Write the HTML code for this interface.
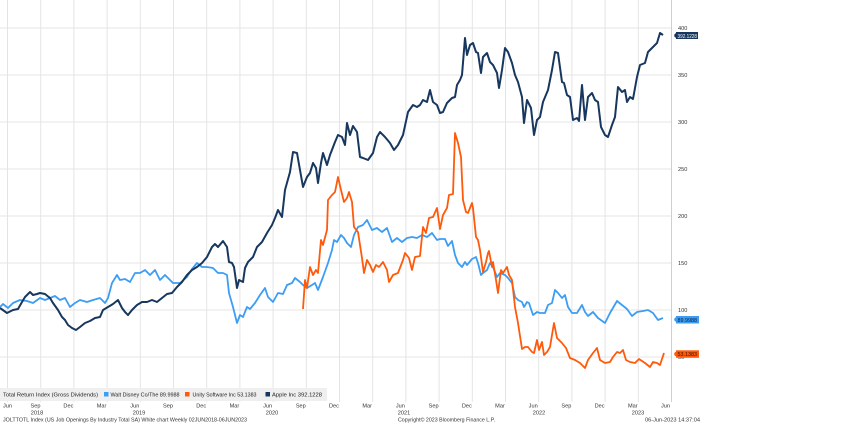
<!DOCTYPE html>
<html><head><meta charset="utf-8"><style>
html,body{margin:0;padding:0;background:#fff;}
svg{display:block;}
text{font-family:"Liberation Sans",Arial,sans-serif;}
</style></head><body>
<svg width="854" height="423" viewBox="0 0 854 423" xmlns="http://www.w3.org/2000/svg">
<rect width="854" height="423" fill="#fff"/>
<g stroke="#e4e4e4" stroke-width="1">
<line x1="0" y1="28" x2="671" y2="28"/>
<line x1="0" y1="75" x2="671" y2="75"/>
<line x1="0" y1="122" x2="671" y2="122"/>
<line x1="0" y1="169" x2="671" y2="169"/>
<line x1="0" y1="216" x2="671" y2="216"/>
<line x1="0" y1="263" x2="671" y2="263"/>
<line x1="0" y1="310" x2="671" y2="310"/>
<line x1="0" y1="357" x2="671" y2="357"/>
<line x1="7.5" y1="0" x2="7.5" y2="402"/>
<line x1="40.7" y1="0" x2="40.7" y2="402"/>
<line x1="73.9" y1="0" x2="73.9" y2="402"/>
<line x1="107.1" y1="0" x2="107.1" y2="402"/>
<line x1="140.3" y1="0" x2="140.3" y2="402"/>
<line x1="173.5" y1="0" x2="173.5" y2="402"/>
<line x1="206.7" y1="0" x2="206.7" y2="402"/>
<line x1="239.9" y1="0" x2="239.9" y2="402"/>
<line x1="273.1" y1="0" x2="273.1" y2="402"/>
<line x1="306.3" y1="0" x2="306.3" y2="402"/>
<line x1="339.5" y1="0" x2="339.5" y2="402"/>
<line x1="372.7" y1="0" x2="372.7" y2="402"/>
<line x1="405.9" y1="0" x2="405.9" y2="402"/>
<line x1="439.1" y1="0" x2="439.1" y2="402"/>
<line x1="472.3" y1="0" x2="472.3" y2="402"/>
<line x1="505.5" y1="0" x2="505.5" y2="402"/>
<line x1="538.7" y1="0" x2="538.7" y2="402"/>
<line x1="571.9" y1="0" x2="571.9" y2="402"/>
<line x1="605.1" y1="0" x2="605.1" y2="402"/>
<line x1="638.3" y1="0" x2="638.3" y2="402"/>
</g>
<line x1="671.5" y1="0" x2="671.5" y2="402" stroke="#cfcfcf" stroke-width="1"/>

<!-- Disney -->
<polyline fill="none" stroke="#3d9df3" stroke-width="1.8" stroke-linejoin="round" points="0,307 3,304 8,308 13,303 20,300 27,301 33,303 40,298 45,300 50,298 55,296 60,300 65,298 70,307 75,303 80,300 87,302 93,300 100,298 105,303 108,298 112,283 117,275 120,280 125,279 130,282 135,273 140,273 145,270 150,275 155,270 160,280 165,275 170,280 173,283 180,283 187,277 192,269 197,263 202,267 207,267 213,268 218,273 223,273 227,275 229,293 233,307 237,323 240,315 243,317 247,307 250,309 255,303 260,295 265,288 268,297 273,302 278,293 283,294 287,285 292,283 295,278 300,282 303,285 307,288 312,285 315,283 318,290 323,277 328,263 332,250 334,240 337,242 341,235 344,238 347,243 351,247 354,235 358,227 363,225 367,220 372,230 377,228 382,232 387,228 392,242 397,238 402,242 407,238 412,237 417,238 422,235 427,237 432,233 437,240 440,239 445,239 448,246 452,241 455,255 458,263 462,267 465,262 467,265 472,259 476,257 478,263 481,275 483,273 487,270 490,263 493,267 497,277 500,273 505,275 508,278 512,283 515,297 518,300 522,302 524,307 527,302 529,303 533,315 537,312 540,313 545,313 548,305 552,303 555,290 558,293 562,298 565,295 568,307 572,313 577,313 582,305 585,312 588,316 593,312 598,318 605,323 610,313 617,301 622,305 627,309 632,316 637,312 643,311 648,310 653,313 658,320 663,318"/>

<!-- Unity -->
<polyline fill="none" stroke="#ff5a0a" stroke-width="1.8" stroke-linejoin="round" points="303,309 305,280 307,288 310,267 313,275 316,270 318,273 321,240 323,245 327,230 328,200 332,195 335,192 338,177 341,190 344,202 347,198 349,192 352,202 354,227 358,232 362,258 364,273 367,260 370,265 373,272 376,265 379,267 383,262 387,270 389,282 393,275 398,273 403,260 405,253 409,258 412,270 415,257 420,256 423,227 426,233 429,218 433,217 437,208 440,229 443,215 447,208 449,195 453,194 455,133 458,143 461,157 463,200 466,212 468,213 472,203 473,208 476,237 478,240 480,250 483,272 486,262 488,253 489,251 492,267 493,262 496,280 498,293 501,270 503,273 507,267 509,275 512,280 515,307 518,323 522,349 525,347 528,347 532,352 534,353 537,340 539,350 542,342 544,355 547,352 550,347 554,323 557,338 562,343 566,348 570,358 575,360 580,363 585,368 588,360 593,353 597,348 600,360 605,363 610,362 613,357 617,352 620,353 623,350 626,360 630,362 635,363 639,359 645,363 650,367 653,362 657,363 660,365 664,353"/>

<!-- Apple -->
<polyline fill="none" stroke="#17375e" stroke-width="2" stroke-linejoin="round" points="0,308 7,313 13,310 18,309 22,302 25,297 30,292 33,295 37,294 40,293 45,294 50,298 53,303 58,310 62,317 65,320 68,325 72,328 76,330 80,327 85,323 90,321 95,318 100,317 103,310 108,307 113,304 118,300 122,308 125,312 128,315 132,310 137,305 142,302 147,302 152,300 157,302 162,298 167,294 172,293 177,287 182,282 187,275 192,270 197,267 202,263 207,257 212,247 215,244 218,247 223,241 227,247 229,262 232,263 234,267 237,288 239,280 243,282 245,268 248,262 253,257 257,247 262,242 267,233 272,225 275,218 278,210 282,217 285,190 290,172 293,152 297,153 300,170 303,187 307,177 310,173 313,163 316,168 318,183 321,163 323,153 327,165 330,155 335,142 338,135 342,137 345,145 347,123 350,135 353,126 357,132 360,157 363,158 368,160 373,153 377,137 380,132 385,137 390,143 394,150 398,145 403,135 408,112 413,105 417,107 420,105 423,100 427,102 430,90 433,102 437,105 440,113 443,112 447,103 452,98 455,97 457,85 460,80 462,75 465,38 467,55 470,45 473,43 476,52 478,53 481,73 483,57 487,53 490,62 493,65 497,73 499,88 502,70 505,48 508,52 512,63 515,75 518,82 522,97 524,123 527,100 531,108 534,135 537,120 540,117 543,102 548,90 552,70 555,52 558,53 562,82 564,83 567,95 570,97 573,120 577,118 579,121 582,85 585,120 588,97 592,93 595,100 598,102 601,127 605,135 608,137 612,125 615,117 618,87 622,92 625,90 627,102 630,97 633,99 637,77 640,65 645,63 648,52 652,48 657,43 660,33 663,35"/>

<!-- right axis labels -->
<g font-size="5.6" fill="#333">
<text x="678" y="30">400</text>
<text x="678" y="77">350</text>
<text x="678" y="124">300</text>
<text x="678" y="171">250</text>
<text x="678" y="218">200</text>
<text x="678" y="265">150</text>
<text x="678" y="312">100</text>
<text x="678" y="359">50</text>
</g>

<!-- value boxes -->
<circle cx="676.5" cy="35.5" r="2.3" fill="#17375e"/>
<rect x="676" y="32" width="22" height="7" fill="#17375e"/>
<text x="677.5" y="37.8" font-size="5.4" fill="#fff" textLength="19.5" lengthAdjust="spacingAndGlyphs">392.1228</text>
<circle cx="676.5" cy="319.5" r="2.3" fill="#3d9df3"/>
<rect x="676" y="316" width="23" height="7.5" fill="#3d9df3"/>
<text x="677.5" y="321.8" font-size="5.4" fill="#0b1f3a" textLength="19.5" lengthAdjust="spacingAndGlyphs">89.9988</text>
<circle cx="676.5" cy="354" r="2.3" fill="#ff5a0a"/>
<rect x="676" y="350.3" width="23" height="7.5" fill="#ff5a0a"/>
<text x="677.5" y="356.2" font-size="5.4" fill="#3a1000" textLength="19.5" lengthAdjust="spacingAndGlyphs">53.1383</text>

<!-- legend -->
<rect x="0" y="388" width="327" height="13" fill="#efefef"/>
<g font-size="5.6" fill="#222">
<text x="3" y="396.5" textLength="95" lengthAdjust="spacingAndGlyphs">Total Return Index (Gross Dividends)</text>
<rect x="104" y="392" width="4.5" height="4.5" fill="#3d9df3"/>
<text x="110.5" y="396.5" textLength="69" lengthAdjust="spacingAndGlyphs">Walt Disney Co/The 89.9988</text>
<rect x="185" y="392" width="4.5" height="4.5" fill="#ff5a0a"/>
<text x="192.5" y="396.5" textLength="64" lengthAdjust="spacingAndGlyphs">Unity Software Inc 53.1383</text>
<rect x="265.5" y="392" width="4.5" height="4.5" fill="#17375e"/>
<text x="272" y="396.5" textLength="50" lengthAdjust="spacingAndGlyphs">Apple Inc 392.1228</text>
</g>

<!-- x axis labels -->
<g font-size="5.6" fill="#333" text-anchor="middle">
<text x="7.5" y="407.5">Jun</text>
<text x="35.5" y="407.5">Sep</text>
<text x="68.4" y="407.5">Dec</text>
<text x="101.6" y="407.5">Mar</text>
<text x="134.8" y="407.5">Jun</text>
<text x="168" y="407.5">Sep</text>
<text x="201.2" y="407.5">Dec</text>
<text x="234.4" y="407.5">Mar</text>
<text x="267.6" y="407.5">Jun</text>
<text x="300.8" y="407.5">Sep</text>
<text x="334" y="407.5">Dec</text>
<text x="367.2" y="407.5">Mar</text>
<text x="400.4" y="407.5">Jun</text>
<text x="433.6" y="407.5">Sep</text>
<text x="466.8" y="407.5">Dec</text>
<text x="500" y="407.5">Mar</text>
<text x="533.2" y="407.5">Jun</text>
<text x="566.4" y="407.5">Sep</text>
<text x="599.6" y="407.5">Dec</text>
<text x="632.8" y="407.5">Mar</text>
<text x="665.5" y="407.5">Jun</text>
<text x="37" y="414.5">2018</text>
<text x="139" y="414.5">2019</text>
<text x="272" y="414.5">2020</text>
<text x="404" y="414.5">2021</text>
<text x="539" y="414.5">2022</text>
<text x="638" y="414.5">2023</text>
</g>
<g font-size="5.4" fill="#333">
<text x="3" y="421.5" textLength="244" lengthAdjust="spacingAndGlyphs">JOLTTOTL Index (US Job Openings By Industry Total SA) White chart  Weekly 02JUN2018-06JUN2023</text>
<text x="398" y="421.5" textLength="97" lengthAdjust="spacingAndGlyphs">Copyright© 2023 Bloomberg Finance L.P.</text>
<text x="645" y="421.5" textLength="55" lengthAdjust="spacingAndGlyphs">06-Jun-2023 14:37:04</text>
</g>
</svg>
</body></html>
